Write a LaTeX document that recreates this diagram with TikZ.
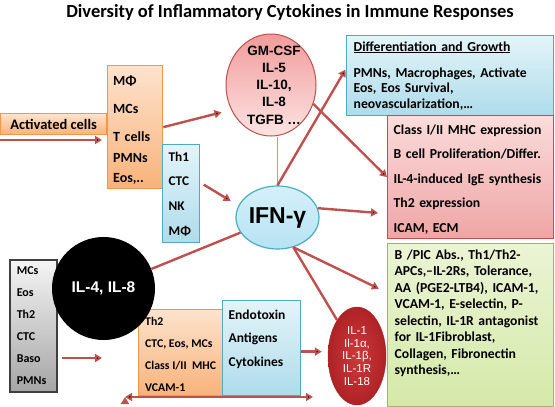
\documentclass[tikz,border=0pt]{standalone}
\usepackage{fontspec}
\setmainfont{Carlito}
\newfontfamily\arl{Liberation Sans}
\usetikzlibrary{shapes.geometric, positioning, calc, arrows.meta}

\definecolor{arrowred}{HTML}{C0504D}
\definecolor{stemgreen}{HTML}{8CC63F}
\definecolor{orgline}{HTML}{F79646}
\definecolor{orgtop}{HTML}{FDE3CD}
\definecolor{orgbot}{HTML}{F8B27A}
\definecolor{blueline}{HTML}{4BACC6}
\definecolor{bluetop}{HTML}{E4F4F9}
\definecolor{bluebot}{HTML}{AEDCEA}
\definecolor{pinkline}{HTML}{C0504D}
\definecolor{pinktop}{HTML}{FBDCDC}
\definecolor{pinkbot}{HTML}{EFA5A4}
\definecolor{grnline}{HTML}{9BBB59}
\definecolor{grntop}{HTML}{EBF4D5}
\definecolor{grnbot}{HTML}{D5E9A8}
\definecolor{gryline}{HTML}{3F3F3F}
\definecolor{grytop}{HTML}{F5F5F5}
\definecolor{grybot}{HTML}{A5A5A5}
\definecolor{gmtop}{HTML}{F09C9B}
\definecolor{gmbot}{HTML}{FDE3E3}
\definecolor{ifntop}{HTML}{D4F0FA}
\definecolor{ifnbot}{HTML}{B7E3F2}
\definecolor{il1in}{HTML}{CD3A3A}
\definecolor{il1out}{HTML}{AE2226}

\newcommand{\boxfont}[2]{\fontsize{#1}{#2}\selectfont\bfseries}
\newcommand{\arlfont}[2]{\arl\fontsize{#1}{#2}\selectfont}
\newcommand{\tph}[1]{\rule{0pt}{#1pt}}
\newcommand{\btd}[1]{\rule[-#1pt]{0pt}{#1pt}}

\begin{document}
\begin{tikzpicture}[x=1pt, y=-1pt, >={Triangle[length=7pt, width=8pt]}]
        \tikzstyle{box}=[draw, line width=1.3pt, rectangle, anchor=north west, inner ysep=0pt, align=left];
        \tikzstyle{obox}=[box, draw=orgline, top color=orgtop, bottom color=orgbot];
        \tikzstyle{bbox}=[box, draw=blueline, top color=bluetop, bottom color=bluebot];
        \tikzstyle{pbox}=[box, draw=pinkline, top color=pinktop, bottom color=pinkbot];
        \tikzstyle{gbox}=[box, draw=grnline, top color=grntop, bottom color=grnbot];
        \tikzstyle{kbox}=[box, line width=1.6pt, draw=gryline, top color=grytop, bottom color=grybot];
        \tikzstyle{arr}=[draw=arrowred, line width=2.4pt, ->];
        \tikzstyle{rline}=[draw=arrowred, line width=2.4pt];
        \tikzstyle{gline}=[draw=stemgreen, line width=1.8pt];
        \useasboundingbox (0,0) rectangle (555,407);

        \node[anchor=base, font=\boxfont{18.5}{22}] (ttl) at (290,17.7) {Diversity of Inflammatory Cytokines in Immune Responses};

        \node[obox, inner xsep=0pt, minimum width=106, font=\boxfont{14.5}{17}] (act) at (0,113) {\tph{15.5}Activated cells\btd{5.5}};
        \node[obox, inner xsep=5.5pt, text width=44pt, font=\boxfont{14}{20}] (cells) at (107,65) {\tph{19.5}MΦ\\[8pt] MCs\\[8pt] T cells\\[1pt] PMNs\\ Eos,..\btd{6.5}};
        \node[bbox, inner xsep=6pt, text width=25pt, font=\boxfont{13.3}{24.7}] (th1) at (162,144) {\tph{16.5}Th1\\ CTC\\ NK\\ MΦ\btd{7.4}};
        \node[bbox, inner xsep=7pt, text width=193pt, font=\boxfont{13.7}{15.5}] (diff) at (346,35) {\tph{15.5}\underline{Differentiation and Growth}\\[10.5pt] PMNs, Macrophages, Activate\\ Eos, Eos Survival,\\ neovascularization,…\btd{7.5}};
        \node[pbox, inner xsep=6pt, text width=154pt, font=\boxfont{13.7}{24.5}] (pnk) at (387,115) {\tph{18.5}Class I/II MHC expression\\ B cell Proliferation/Differ.\\ IL-4-induced IgE synthesis\\ Th2 expression\\ ICAM, ECM\btd{6.5}};
        \node[gbox, inner xsep=7pt, text width=152pt, font=\boxfont{13.7}{16.5}] (grn) at (387,243) {\tph{15.5}B /PIC Abs., Th1/Th2-\\ APCs,–IL-2Rs, Tolerance,\\ AA (PGE2-LTB4), ICAM-1,\\ VCAM-1, E-selectin, P-\\ selectin, IL-1R antagonist\\ for IL-1Fibroblast,\\ Collagen, Fibronectin\\ synthesis,…\btd{32}};
        \node[kbox, inner xsep=7pt, text width=33pt, font=\boxfont{12}{22}] (gry) at (9,259) {\tph{15}MCs\\ Eos\\ Th2\\ CTC\\ Baso\\ PMNs\btd{7}};
        \node[obox, inner xsep=6pt, minimum width=84, font=\boxfont{11.8}{22}] (obot) at (138,309) {\tph{16}Th2\\ CTC, Eos, MCs\\ Class I/II\ \ MHC\\ VCAM-1\btd{4}};
        \node[bbox, inner xsep=6pt, text width=66pt, font=\boxfont{13.5}{23.5}] (endo) at (222,300) {\tph{18.5}Endotoxin\\ Antigens\\ Cytokines\btd{29.5}};

        \node[ellipse, draw=arrowred, line width=1pt, top color=gmtop, bottom color=gmbot, minimum width=90, minimum height=102, inner sep=0pt] (gm) at (271,85) {};
        \node[align=center, font=\arlfont{13.5}{17.3}\bfseries] (gmt) at ([xshift=3pt]gm) {GM-CSF\\ IL-5\\ IL-10,\\ IL-8\\ TGFB …};
        \node[ellipse, draw=blueline, line width=1.2pt, top color=ifntop, bottom color=ifnbot, minimum width=83, minimum height=63, inner sep=0pt, font=\arlfont{23}{26}\bfseries] (ifn) at (277.5,217.5) {IFN-γ};
        \node[circle, fill=black, minimum size=103, inner sep=0pt, text=white, font=\arlfont{15.5}{18}\bfseries] (il4) at (103.5,288.5) {IL-4, IL-8};
        \node[ellipse, draw=il1out, inner color=il1in, outer color=il1out, minimum width=58, minimum height=98, inner sep=0pt] (il1) at (357,356) {};
        \node[align=center, text=white, font=\arlfont{11.5}{12.8}] (il1t) at (il1) {IL-1\\ Il-1α,\\ IL-1β,\\ IL-1R\\ IL-18};

        \coordinate (inl) at (0,140);
        \coordinate (lo) at (125,397);
        \coordinate (ro) at (313,397);

        \path[gline] (ifn.north) edge (ifn.north |- gm.south);
        \path[rline]
        (il4) edge (ifn)
        (ifn.-62) edge (il1.119);
        \path[arr]
        (inl) edge[shorten >=5pt] (inl -| cells.west)
        (cells.east) edge[shorten >=10pt] (gm.212)
        (th1.30) edge[shorten <=4pt, shorten >=9pt] (ifn.163)
        (ifn.north) edge[shorten >=1pt] ([yshift=7pt]diff.west)
        (gm.-24) edge (pnk.west)
        (ifn.13) edge[shorten >=9pt] ([yshift=-36.5pt]pnk.west)
        (ifn.-62) edge[shorten >=9pt] ([yshift=32.5pt]grn.west)
        (endo.-5) edge[shorten >=6pt] (endo.-5 -| il1.west)
        (gry.-53) edge[shorten <=4pt, shorten >=36pt] (gry.-53 -| obot.west)
        (lo) edge[<->] (ro);
      \end{tikzpicture}
\end{document}
